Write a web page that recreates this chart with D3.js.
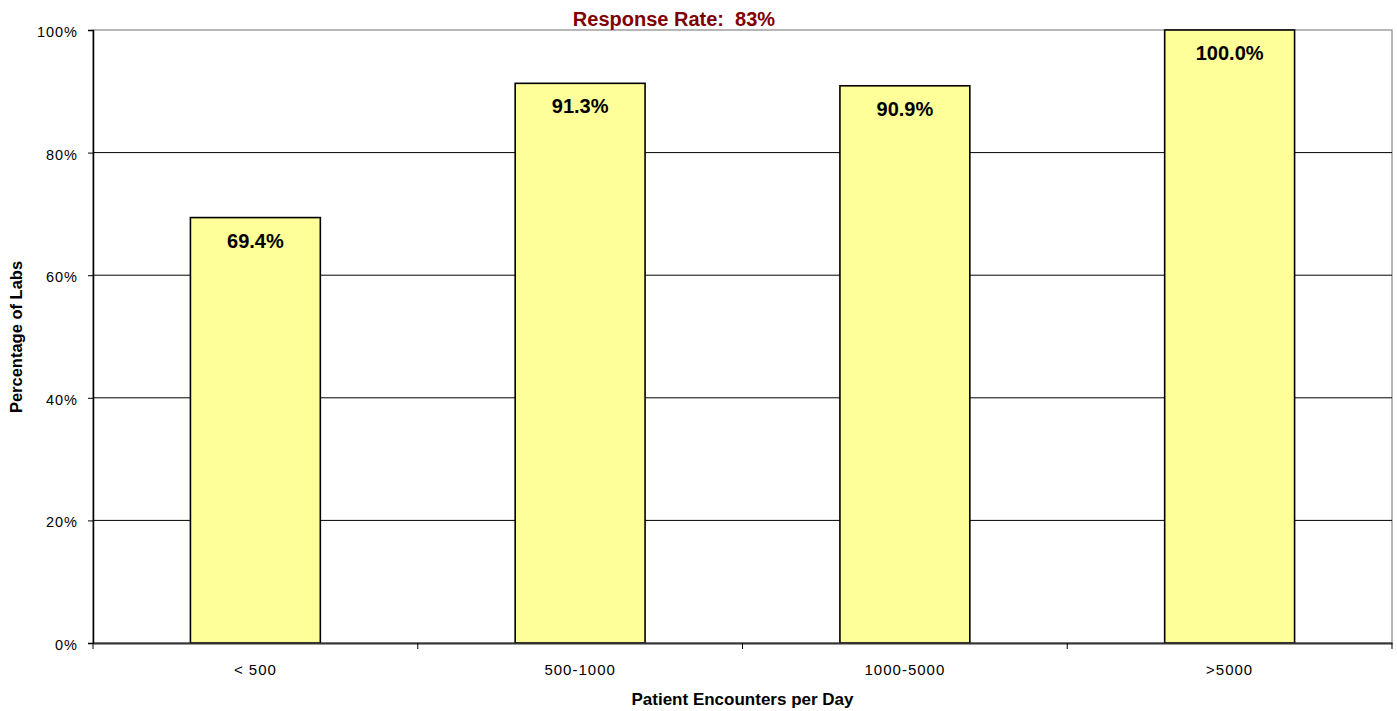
<!DOCTYPE html>
<html>
<head>
<meta charset="utf-8">
<script src="https://cdn.jsdelivr.net/npm/d3@7"></script>
<style>
  body { margin: 0; background: #fff; }
  text { font-family: Arial, "Liberation Sans", sans-serif; }
</style>
</head>
<body>
<div id="chart-area"></div>
<script>
// data
const categories = ["< 500", "500-1000", "1000-5000", ">5000"]
const percentages = [69.4, 91.3, 90.9, 100.0]
const yTicks = [0, 20, 40, 60, 80, 100]

const W = 1397, H = 711
const MARGIN = { LEFT: 93, RIGHT: 5, TOP: 30, BOTTOM: 68 }
const WIDTH = W - MARGIN.LEFT - MARGIN.RIGHT
const HEIGHT = H - MARGIN.TOP - MARGIN.BOTTOM

const svg = d3.select("#chart-area").append("svg")
	.attr("width", W)
	.attr("height", H)

const g = svg.append("g")
	.attr("transform", `translate(${MARGIN.LEFT}, ${MARGIN.TOP})`)

const x = d3.scaleBand()
	.domain(categories)
	.range([0, WIDTH])
	.paddingInner(0.6)
	.paddingOuter(0.3)

const band = d3.scaleBand().domain(categories).range([0, WIDTH])

const y = d3.scaleLinear()
	.domain([0, 100])
	.range([HEIGHT, 0])

// plot border (gray, top/right)
g.append("rect")
	.attr("width", WIDTH)
	.attr("height", HEIGHT)
	.attr("fill", "none")
	.attr("stroke", "#888")
	.attr("stroke-width", 1.2)

// gridlines
g.selectAll(".grid").data(yTicks.filter(d => d > 0 && d < 100))
	.enter().append("line")
	.attr("x1", 0).attr("x2", WIDTH)
	.attr("y1", d => y(d)).attr("y2", d => y(d))
	.attr("stroke", "#000")
	.attr("stroke-width", 1)

// bars
g.selectAll(".bar").data(percentages)
	.enter().append("rect")
	.attr("x", (d, i) => x(categories[i]))
	.attr("y", d => y(d))
	.attr("width", x.bandwidth())
	.attr("height", d => HEIGHT - y(d))
	.attr("fill", "#FFFF99")
	.attr("stroke", "#000")
	.attr("stroke-width", 1.6)

// value labels
g.selectAll(".val").data(percentages)
	.enter().append("text")
	.attr("x", (d, i) => x(categories[i]) + x.bandwidth() / 2)
	.attr("y", d => y(d) + 30)
	.attr("text-anchor", "middle")
	.attr("font-size", "20px")
	.attr("font-weight", "bold")
	.text(d => d.toFixed(1) + "%")

// Y axis
const yAxis = g.append("g")
	.call(d3.axisLeft(y).tickValues(yTicks).tickSize(5).tickFormat(d => d + "%"))
yAxis.select(".domain").attr("stroke", "#000").attr("stroke-width", 1.5)
yAxis.selectAll(".tick line").attr("stroke", "#000")
yAxis.selectAll("text")
	.attr("font-size", "14.5px")
	.attr("letter-spacing", "1px")
	.attr("x", -15)
	.attr("dy", "0.45em")
	.attr("fill", "#000")

// X axis
const xAxis = g.append("g")
	.attr("transform", `translate(0, ${HEIGHT})`)
	.call(d3.axisBottom(band).tickSize(0).tickSizeOuter(0))
xAxis.select(".domain").attr("stroke", "#333").attr("stroke-width", 2)
xAxis.selectAll("text")
	.attr("font-size", "15px")
	.attr("letter-spacing", "1px")
	.attr("y", 21)
	.attr("dy", "0.71em")
	.attr("fill", "#000")
// tick marks between categories
g.selectAll(".xtick").data(d3.range(categories.length + 1))
	.enter().append("line")
	.attr("x1", i => i * band.step()).attr("x2", i => i * band.step())
	.attr("y1", HEIGHT).attr("y2", HEIGHT + 6)
	.attr("stroke", "#000")

// axis titles
svg.append("text")
	.attr("x", MARGIN.LEFT + WIDTH / 2)
	.attr("y", 705)
	.attr("text-anchor", "middle")
	.attr("font-size", "17px")
	.attr("font-weight", "bold")
	.text("Patient Encounters per Day")

svg.append("text")
	.attr("transform", "rotate(-90)")
	.attr("x", -337)
	.attr("y", 22)
	.attr("text-anchor", "middle")
	.attr("font-size", "16.5px")
	.attr("font-weight", "bold")
	.text("Percentage of Labs")

// title
svg.append("text")
	.attr("x", 674)
	.attr("y", 26)
	.attr("text-anchor", "middle")
	.attr("font-size", "20px")
	.attr("font-weight", "bold")
	.attr("fill", "#800000")
	.attr("xml:space", "preserve")
	.style("white-space", "pre")
	.text("Response Rate:  83%")
</script>
</body>
</html>
